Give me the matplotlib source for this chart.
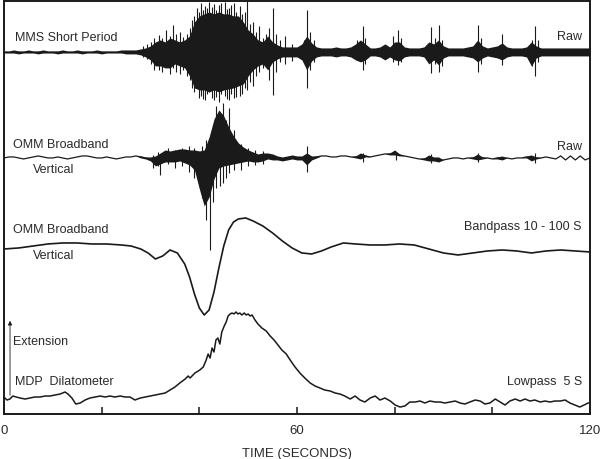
import numpy as np
import matplotlib as mpl
import matplotlib.pyplot as plt

mpl.rc('font', family='Liberation Sans', size=9)

# ---- data (amplitudes in screen units, positive up) ----
sec = np.arange(121)

# MMS short period, envelope per second + spikes
mms_up = [1, 1, 2, 1, 1, 2, 1, 1, 2, 1, 1, 1, 2, 1, 1, 2, 1, 1, 1, 2,
          1, 1, 1, 1, 2, 2, 2, 2, 3, 4, 6, 10, 12, 10, 14, 12, 10, 12, 16, 30,
          36, 38, 40, 38, 40, 38, 38, 36, 36, 30, 22, 18, 12, 10, 16, 10, 7, 5, 5, 5,
          5, 8, 16, 9, 5, 4, 4, 4, 5, 4, 4, 5, 8, 12, 8, 4, 4, 5, 8, 5,
          10, 10, 5, 4, 4, 4, 5, 10, 8, 12, 6, 4, 4, 4, 4, 5, 6, 12, 6, 4,
          5, 6, 9, 5, 4, 4, 4, 5, 10, 6, 4, 4, 4, 4, 4, 4, 4, 4, 4, 4, 4]
mms_dn = [1, 1, 1, 2, 1, 1, 1, 2, 1, 1, 1, 2, 1, 1, 1, 1, 2, 1, 1, 1,
          2, 1, 1, 1, 1, 2, 2, 2, 3, 5, 8, 14, 14, 16, 16, 12, 14, 16, 24, 36,
          38, 38, 40, 38, 40, 38, 37, 36, 34, 32, 24, 18, 14, 12, 18, 10, 7, 5, 5, 5,
          5, 8, 18, 9, 5, 4, 4, 4, 5, 4, 4, 5, 8, 10, 8, 4, 4, 5, 8, 5,
          8, 9, 5, 4, 4, 4, 5, 12, 8, 13, 6, 4, 4, 4, 4, 5, 6, 10, 6, 4,
          5, 6, 8, 5, 4, 4, 4, 5, 14, 6, 4, 4, 4, 4, 4, 4, 4, 4, 4, 4, 4]
mms_spike_t = [28.5, 29.3, 30.1, 30.8, 31.7, 32.4, 33.2, 33.9, 34.6, 35.3, 36.0, 36.7,
               37.4, 38.0, 38.5, 39.0, 39.6, 40.0, 40.3, 40.8, 41.2, 41.6, 42.0, 42.5,
               43.1, 43.5, 44.0, 44.5, 45.2, 45.6, 46.0, 46.5, 47.1, 47.6, 48.3, 48.8,
               49.3, 49.8, 50.4, 51.0, 51.6, 52.3, 53.0, 53.6, 54.2, 55.1, 55.7, 56.5,
               57.6, 59.0, 61.4, 62.1, 62.7, 63.5, 72.2, 73.5, 74.0, 79.6, 80.7, 81.3,
               87.5, 88.2, 89.1, 89.7, 97.1, 97.6, 102.0, 108.1, 108.7, 109.3]
mms_spike_up = [6, 8, 10, 14, 17, 14, 22, 16, 27, 18, 20, 15,
                18, 24, 32, 36, 44, 40, 49, 42, 46, 44, 50, 45,
                48, 42, 47, 49, 50, 43, 44, 47, 49, 40, 46, 38,
                40, 52, 28, 30, 20, 26, 14, 18, 24, 44, 18, 12,
                16, 8, 12, 42, 20, 12, 12, 26, 14, 16, 22, 14,
                25, 14, 27, 12, 27, 14, 18, 12, 26, 12]
mms_spike_dn = [5, 7, 12, 18, 18, 20, 12, 22, 16, 20, 22, 18,
                24, 28, 36, 40, 35, 46, 44, 47, 48, 42, 40, 46,
                48, 45, 50, 42, 44, 47, 48, 42, 46, 45, 44, 42,
                36, 38, 30, 34, 24, 20, 16, 14, 28, 43, 20, 10,
                12, 9, 10, 36, 18, 10, 8, 18, 12, 10, 13, 10,
                21, 12, 20, 14, 20, 12, 13, 14, 24, 10]

# OMM broadband raw: slow wobble + burst envelope + spikes
omm_mid = [0, 1, 1, 0, -1, 0, 1, 2, 1, 0, 0, 1, 0, -1, 0, 1, 2, 2, 1, 0,
           0, 1, 0, -1, 0, 1, 1, 2, 1, 0, -1, -2, 0, 2, 1, 2, 3, 2, 1, 0,
           -5, -10, -5, 5, 10, 8, 5, 4, 3, 2, 2, 1, 0, 1, 2, 1, 0, -1, 0, 1,
           0, 0, -1, 0, 1, 2, 2, 1, 1, 2, 2, 1, 1, 2, 2, 1, 2, 3, 4, 4,
           5, 3, 2, 1, 0, -1, -1, 0, -1, -2, -2, -1, 0, 0, -1, 0, 0, 1, 0, 0,
           -1, 0, 0, 0, -1, 0, 0, 1, 0, 0, 0, 1, 0, -1, 2, -2, 2, -2, 2, -2, 0]
omm_up = [0] * 28 + [1, 1, 2, 4, 5, 6, 6, 6, 6, 7, 7, 8,
                     12, 18, 26, 34, 38, 34, 26, 18, 12, 9, 6, 5, 4, 4, 3, 3, 2, 2, 2, 2,
                     2, 2, 6, 2, 1, 0, 0, 0, 0, 0, 0, 0, 1, 3, 1, 0, 0, 0, 0, 1,
                     3, 1, 0, 0, 0, 0, 1, 3, 2, 3, 0, 0, 0, 0, 0, 0, 1, 3, 1, 0,
                     0, 1, 2, 0, 0, 0, 0, 1, 3, 1, 0, 0, 0, 0, 0, 0, 0, 0, 0, 0, 0]
omm_dn = [0] * 28 + [1, 1, 2, 6, 6, 6, 5, 6, 6, 7, 8, 12,
                     26, 38, 34, 26, 20, 16, 12, 10, 8, 6, 5, 5, 4, 4, 3, 3, 2, 2, 2, 2,
                     2, 2, 6, 2, 1, 0, 0, 0, 0, 0, 0, 0, 1, 3, 1, 0, 0, 0, 0, 1,
                     2, 1, 0, 0, 0, 0, 1, 3, 2, 2, 0, 0, 0, 0, 0, 0, 1, 3, 1, 0,
                     0, 1, 2, 0, 0, 0, 0, 1, 3, 1, 0, 0, 0, 0, 0, 0, 0, 0, 0, 0, 0]
omm_spike_t = [30.5, 31.5, 32.0, 33.5, 35.0, 36.5, 37.8, 39.0, 40.5, 41.3, 42.2, 42.8,
               43.5, 44.2, 44.8, 45.5, 46.1, 47.2, 48.5, 50.0, 51.5, 53.0, 62.1, 73.5,
               80.3, 87.5, 97.1, 108.7]
omm_spike_up = [3, 6, 4, 10, 8, 10, 12, 10, 12, 18, 20, 30,
                52, 40, 55, 38, 50, 28, 14, 10, 8, 7, 12, 5,
                4, 4, 5, 5]
omm_spike_dn = [10, 8, 17, 6, 10, 8, 14, 20, 40, 62, 92, 44,
                30, 28, 25, 20, 15, 12, 12, 8, 7, 6, 14, 4,
                2, 5, 4, 5]

# OMM bandpass 10 - 100 s
bp_t = [0, 3, 6, 9, 12, 15, 18, 21, 24, 26, 28, 29.5, 31, 32.5, 34, 35.5, 37, 38, 39, 40,
        41, 42, 43, 44, 45, 46, 47, 48, 49.5, 51, 53, 55, 57, 59, 61, 63, 65, 67, 69.5, 72,
        75, 78, 81, 84, 87, 90, 93, 96, 99, 102, 105, 108, 111, 114, 117, 120]
bp_v = [1, 2, 4, 6, 7, 7, 6, 6, 5, 4, 1, -3, -9, -6, 0, -3, -14, -27, -44, -58,
        -65, -60, -42, -18, 4, 20, 28, 31, 32, 29, 24, 17, 9, 2, -3, -4, -1, 3, 7, 6,
        5, 5, 6, 5, 1, -3, -5, -3, -1, 0, -1, -3, -1, 0, -1, -2]

# MDP dilatometer, lowpass 5 s
dil_t = [0, 0.6, 1.2, 1.8, 2.5, 3.3, 4.3, 5.3, 6.3, 7.4, 8.4, 9.4, 10.4, 11.5, 12.5, 13.1,
         13.9, 14.7, 15.6, 16.6, 17.6, 18.6, 19.7, 20.7, 21.7, 22.7, 23.8, 24.8, 25.8, 26.8,
         27.9, 28.9, 29.9, 30.9, 31.9, 33.0, 34.0, 35.0, 36.0, 37.1, 37.7, 38.1, 39.1, 40.1,
         40.8, 41.4, 41.8, 42.2, 42.6, 43.0, 43.4, 43.8, 44.2, 44.6, 45.1, 45.5, 45.9, 46.3,
         46.7, 47.1, 47.5, 47.9, 48.3, 48.7, 49.2, 49.6, 50.0, 50.4, 50.8, 51.4, 52.0, 52.8,
         53.7, 54.5, 55.3, 56.1, 56.9, 57.8, 58.6, 59.6, 60.6, 61.6, 62.7, 63.7, 64.7, 65.7,
         66.8, 67.8, 68.8, 69.8, 70.9, 71.9, 72.9, 73.9, 75.0, 76.0, 77.0, 78.0, 79.1, 80.1,
         81.1, 82.1, 83.1, 84.2, 85.2, 86.2, 87.2, 88.3, 89.3, 90.3, 91.3, 92.4, 93.4, 94.4,
         95.4, 96.5, 97.5, 98.5, 99.5, 100.6, 101.6, 102.6, 103.6, 104.7, 105.7, 106.7, 107.7,
         108.7, 109.8, 110.8, 111.8, 112.8, 113.9, 114.9, 115.9, 116.9, 117.9, 118.8, 119.6, 120]
dil_v = [3, 0, 1, 4, 3, 2, 1, 2, 3, 3, 4, 4, 5, 6, 8, 6,
         2, -4, -3, 0, 2, 3, 4, 3, 4, 3, 4, 3, 3, 0,
         2, 3, 4, 5, 6, 7, 10, 13, 17, 21, 24, 22, 27, 30,
         33, 40, 46, 42, 52, 48, 60, 62, 56, 68, 74, 78, 84, 86,
         87, 86, 88, 86, 87, 85, 87, 85, 86, 84, 85, 80, 76, 72,
         69, 64, 60, 55, 50, 46, 40, 33, 27, 22, 17, 14, 12, 10,
         9, 7, 6, 4, 1, 4, 0, -2, 2, 4, 0, 2, -1, -5,
         -7, -6, -2, -2, -1, -3, -1, -2, -2, -3, -2, -1, -3, -4,
         -2, 0, -1, -4, -3, 1, -2, -5, -1, 1, -1, 1, -1,
         0, -2, -1, -2, -1, -1, 0, -3, -5, -7, -5, -3, -3]

# ---- layout: baselines in screen units (axis runs 0..413 upward) ----
base_mms, base_omm, base_bp, base_dil = 362, 256, 164, 14
ink = '#1a1a1a'
txt = '#2a2a2a'

fig = plt.figure(figsize=(6, 4.59), dpi=100)
ax = fig.add_axes([0.0067, 0.098, 0.9766, 0.9])

# MMS short period
ax.fill_between(sec, base_mms - np.array(mms_dn), base_mms + np.array(mms_up), color=ink, lw=0)
ax.plot(sec, np.full(len(sec), base_mms), color=ink, lw=1.0)
ax.vlines(mms_spike_t, base_mms - np.array(mms_spike_dn), base_mms + np.array(mms_spike_up),
          color=ink, lw=0.8)

# OMM broadband raw
mid = base_omm + np.array(omm_mid)
ax.fill_between(sec, mid - np.array(omm_dn), mid + np.array(omm_up), color=ink, lw=0)
ax.plot(sec, mid, color=ink, lw=0.9)
ax.vlines(omm_spike_t, base_omm - np.array(omm_spike_dn), base_omm + np.array(omm_spike_up),
          color=ink, lw=0.8)

# OMM bandpass
ax.plot(bp_t, base_bp + np.array(bp_v), color=ink, lw=1.2)

# Dilatometer
ax.plot(dil_t, base_dil + np.array(dil_v), color=ink, lw=1.1)


# labels
def px2t(px):
    return (px - 4) * 120 / 586


def row2y(row):
    return 414 - row


ax.text(px2t(15), row2y(38), 'MMS Short Period', color=txt, va='center', ha='left')
ax.text(px2t(582), row2y(37), 'Raw', color=txt, va='center', ha='right')
ax.text(px2t(13), row2y(145), 'OMM Broadband', color=txt, va='center', ha='left')
ax.text(px2t(33), row2y(170), 'Vertical', color=txt, va='center', ha='left')
ax.text(px2t(582), row2y(147), 'Raw', color=txt, va='center', ha='right')
ax.text(px2t(13), row2y(230), 'OMM Broadband', color=txt, va='center', ha='left')
ax.text(px2t(33), row2y(256), 'Vertical', color=txt, va='center', ha='left')
ax.text(px2t(582), row2y(227), 'Bandpass 10 - 100 S', color=txt, va='center', ha='right')
ax.text(px2t(13), row2y(342), 'Extension', color=txt, va='center', ha='left')
ax.text(px2t(15), row2y(382), 'MDP  Dilatometer', color=txt, va='center', ha='left')
ax.text(px2t(582), row2y(382), 'Lowpass  5 S', color=txt, va='center', ha='right')
ax.annotate('', xy=(px2t(10), row2y(318)), xytext=(px2t(10), row2y(398)),
            arrowprops=dict(arrowstyle='-|>', color=ink, lw=0.6, mutation_scale=6))

ax.set_xlim(0, 120)
ax.set_ylim(0, 413)
ax.set_xticks(range(0, 121, 20))
ax.set_xticklabels(['0', '', '', '60', '', '', '120'])
ax.set_yticks([])
ax.tick_params(axis='x', direction='in', length=5, width=1.2, pad=8, labelsize=9.5, colors=txt)
ax.set_xlabel('TIME (SECONDS)', fontsize=9.5, color=txt, labelpad=8)
for s in ax.spines.values():
    s.set_linewidth(1.4)
    s.set_color(ink)

fig.savefig('out.png', dpi=100)
